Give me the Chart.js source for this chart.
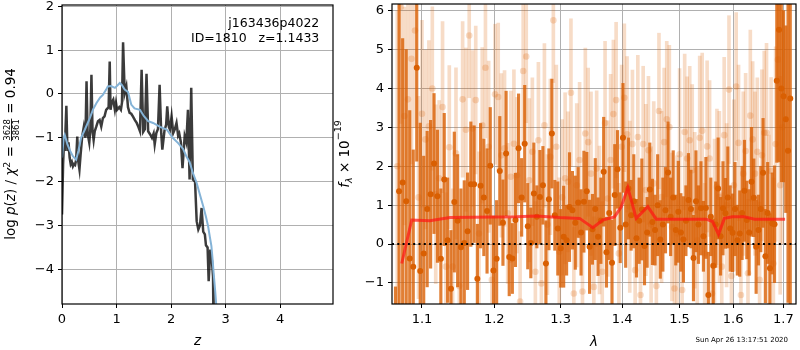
<!doctype html>
<html lang="en">
<head>
<meta charset="utf-8">
<title>j163436p4022 ID 1810 redshift fit</title>
<style>
  * { margin: 0; padding: 0; }
  body { background: #fff; width: 800px; height: 350px; overflow: hidden; position: relative; }
  #pz { position: absolute; left: 0; top: 0; }
  #spec { position: absolute; left: 330px; top: 0; }
</style>
</head>
<body>
<canvas id="pz" width="336" height="350"></canvas>
<canvas id="spec" width="470" height="350"></canvas>
<script src="https://cdn.jsdelivr.net/npm/chart.js"></script>
<script>
// ---- labels ----
const FIELD = 'j163436p4022';
const OBJ_ID = 1810;
const ZBEST = '1.1433';
const CHI2_NUM = '3628', CHI2_DEN = '3861', CHI2_RED = '0.94';
const STAMP = 'Sun Apr 26 13:17:51 2020';

// ---- left panel: log p(z) ----
const pzZ = [0.00, 0.02, 0.04, 0.05, 0.08, 0.10, 0.12, 0.14, 0.16, 0.18, 0.20, 0.22, 0.24, 0.26, 0.28, 0.30,
  0.32, 0.34, 0.37, 0.40, 0.43, 0.45, 0.47, 0.50, 0.52, 0.54, 0.56, 0.58, 0.60, 0.63, 0.66, 0.69, 0.72, 0.75,
  0.78, 0.81, 0.855, 0.875, 0.89, 0.91, 0.94, 0.97, 0.99, 1.01, 1.05, 1.08, 1.10, 1.12, 1.15, 1.18, 1.21, 1.24,
  1.27, 1.30, 1.34, 1.37, 1.40, 1.43, 1.46, 1.49, 1.52, 1.55, 1.58, 1.60, 1.63, 1.65, 1.68, 1.70, 1.73, 1.76,
  1.79, 1.82, 1.84, 1.88, 1.91, 1.93, 1.96, 1.98, 2.01, 2.04, 2.07, 2.10, 2.13, 2.15, 2.18, 2.21, 2.25, 2.28,
  2.31, 2.34, 2.37, 2.40, 2.44, 2.47, 2.50, 2.53, 2.56, 2.59, 2.62, 2.64, 2.67, 2.69, 2.72, 2.75, 2.77, 2.78];
const pzLogp = [-2.75, -1.6, -1.0, -1.3, -0.27, -1.3, -1.1, -1.45, -1.6, -1.55, -1.65, -1.6, -1.62, -1.5, -0.97, -1.55,
  -1.72, -1.4, -0.97, -0.75, -1.0, 0.29, -0.9, -1.11, -0.8, 0.44, -0.85, -1.05, -0.85, -0.74, -0.62, -0.59, -0.74, -0.55,
  -0.51, -0.36, -0.3, 0.74, -0.36, -0.2, -0.13, -0.36, -0.2, -0.36, -0.3, -0.36, -0.2, 1.18, 0.02, 0.17, -0.3, -0.43,
  -0.45, -0.51, -0.6, -0.66, -0.75, -0.85, 0.55, -0.86, -0.8, 0.46, -0.85, -0.89, -0.95, -1.0, -0.9, -1.15, -0.89, -0.8,
  0.21, -0.9, -1.27, -0.83, -0.7, -0.28, -0.75, -0.81, -0.51, -0.89, -0.8, -0.66, -0.95, -0.9, -1.1, -1.69, -0.96, -1.1,
  -0.36, -1.95, 0.14, -1.95, -2.0, -2.9, -3.09, -3.0, -2.6, -3.14, -3.2, -3.45, -3.5, -4.27, -3.55, -3.8, -4.17, -5.5];
const fitZ = [0.00, 0.03, 0.05, 0.10, 0.15, 0.20, 0.26, 0.30, 0.35, 0.42, 0.51, 0.57, 0.63, 0.70, 0.75, 0.81, 0.84,
  0.90, 0.97, 1.02, 1.06, 1.10, 1.15, 1.21, 1.27, 1.33, 1.43, 1.50, 1.58, 1.67, 1.80, 1.92, 2.03, 2.13, 2.22, 2.28,
  2.34, 2.40, 2.47, 2.53, 2.59, 2.64, 2.68, 2.71, 2.74, 2.76, 2.78, 2.81, 2.84];
const fitLogp = [-1.45, -1.0, -0.93, -1.15, -1.3, -1.42, -1.5, -1.3, -1.0, -0.81, -0.55, -0.35, -0.21, -0.08, -0.02, 0.1, 0.17,
  0.18, 0.14, 0.2, 0.25, 0.2, 0.1, 0.05, -0.24, -0.33, -0.36, -0.5, -0.62, -0.66, -0.75, -0.81, -1.0, -1.12, -1.25, -1.42,
  -1.55, -1.8, -2.03, -2.3, -2.56, -2.8, -3.02, -3.25, -3.47, -3.75, -4.07, -4.5, -5.0];
const PZ_XMIN = 0, PZ_XMAX = 4.97, PZ_YMIN = -4.79, PZ_YMAX = 2.03;
const pzXTicks = [0, 1, 2, 3, 4];
const pzYTicks = [-4, -3, -2, -1, 0, 1, 2];

// ---- right panel: spectrum (flux in 1e-19), regular wavelength sampling ----
const DARK_LAM0 = 1.0655, LIGHT_LAM0 = 1.0678, DLAM = 0.0046;
const darkFlux = [
  -2.2, 1.36, 1.58, 1.10, -0.37, -0.58, 4.53, -0.69, -0.24, 0.9,
  1.28, 2.07, 1.23, -0.38, 1.66, 0.10, -1.15, 1.08, 0.6, -0.08,
  0.03, 0.33, 1.54, 1.54, -0.89, 1.50, 1.20, 0.85, 2.01, -0.68,
  -0.38, 1.88, 0.55, 2.33, -0.33, -0.37, 0.62, 2.46, 1.20, 2.58,
  0.46, 0.03, 1.30, 0.7, 1.21, 1.51, -0.50, 1.15, 2.84, 0.74,
  0.40, -0.11, 0.19, 0.10, 0.95, 0.87, 0.55, 1.07, 0.3, 1.09,
  1.36, -0.07, 0.38, 0.9, 0.19, 0.6, 1.86, -0.21, 0.8, -0.48,
  1.26, 1.92, 0.42, 2.73, 0.5, 1.43, 0.74, 1.1, 0.15, 0.6,
  0.89, -0.05, 0.3, 1.40, 0.57, 0.36, 1.0, 0.12, 0.5, 0.87,
  1.84, 0.70, 1.2, 0.36, 0.83, 0.3, 0.12, 0.6, 1.13, 0.9,
  -0.36, 1.10, 0.5, 0.92, 0.2, 0.93, -1.31, 0.7, -0.56, 0.5,
  1.43, 0.2, 0.92, 0.79, 1.2, 0.4, 0.29, 0.9, 0.1, 0.27,
  0.8, 1.37, 0.62, 0.3, 1.60, 1.19, -0.07, 0.36, 0.9, 1.83,
  -0.31, 0.8, -0.62, 0.53, 0.51, 4.2, 5.51, 4.0, 3.8, 3.21,
  2.4, 3.74];
const darkErr = [
  1.1, 5.5, 3.7, 3.9, 3.8, 3.0, 2.4, 3.8, 2.5, 2.0,
  1.9, 1.8, 1.7, 1.8, 1.7, 1.6, 1.5, 1.8, 1.7, 1.5,
  1.6, 1.5, 1.6, 1.5, 1.4, 1.6, 1.5, 1.6, 1.5, 1.4,
  1.5, 1.4, 1.1, 1.6, 1.0, 0.9, 1.2, 1.4, 1.0, 1.5,
  1.1, 0.9, 1.3, 0.8, 1.2, 1.0, 1.1, 1.3, 1.4, 0.9,
  1.2, 1.0, 1.3, 0.9, 1.4, 1.0, 1.2, 0.9, 1.1, 1.3,
  1.0, 1.2, 0.9, 1.3, 1.0, 1.1, 1.4, 0.9, 1.2, 1.1,
  1.3, 1.0, 0.9, 1.4, 1.1, 1.3, 0.9, 1.2, 1.0, 1.1,
  1.3, 1.0, 0.9, 1.2, 1.1, 0.9, 1.3, 1.0, 1.2, 1.1,
  1.3, 1.0, 1.2, 0.9, 1.3, 1.0, 1.1, 0.9, 1.2, 1.0,
  1.1, 1.3, 1.0, 1.2, 0.9, 1.3, 1.1, 1.0, 1.2, 1.1,
  1.3, 1.0, 1.2, 0.9, 1.3, 1.1, 1.0, 1.2, 0.9, 1.1,
  1.2, 1.3, 1.0, 1.1, 1.4, 1.0, 1.2, 0.9, 1.1, 1.4,
  1.2, 1.3, 1.4, 1.3, 1.5, 2.1, 3.4, 2.4, 2.2, 2.4,
  3.9, 5.3];
const lightFlux = [
  2.0, 6.1, 3.29, 3.72, 4.76, 5.49, 1.2, 3.35, 2.69, 3.03,
  4.0, 1.28, 1.69, 3.52, -0.58, 2.49, -0.58, 2.33, -1.08, 3.72,
  2.94, 5.36, 2.97, 3.7, 0.27, 3.05, 4.53, 2.5, -0.92, 3.85,
  3.78, 2.28, 2.46, 0.79, 1.73, 2.58, 1.77, -1.48, 4.45, 4.82,
  1.64, 2.37, -0.71, 2.67, -1.01, 3.05, 0.5, 2.24, 5.75, 2.5,
  -0.2, 1.2, 1.69, 1.6, 3.89, -1.27, 1.51, 2.16, -1.22, 2.84,
  2.62, 1.81, -1.1, 1.94, 0.62, -0.71, 3.11, 1.17, 2.16, 3.34,
  3.7, -0.24, 2.5, 3.76, 2.82, 0.96, 2.57, -0.67, 2.75, -1.31,
  2.57, 1.39, 2.41, 0.5, 1.56, -1.08, 3.42, 1.21, 2.62, 3.21,
  3.01, 0.44, -1.14, 0.27, 2.31, -1.18, 2.88, 2.2, 2.67, 1.9,
  0.87, 0.1, 2.73, 2.91, -0.24, 2.51, 2.2, -1.27, 0.6, 1.47,
  1.21, -0.58, 2.8, 1.0, 3.97, -0.82, 1.51, 4.05, 2.6, -1.31,
  1.81, 2.39, -0.75, 3.3, 2.69, 1.81, 2.37, -0.92, 2.28, 2.86,
  2.86, 0.6, 1.88, -0.5, 2.57, 4.74, 1.51, 3.0];
const lightErr = [
  4.0, 3.0, 2.8, 2.6, 2.7, 2.5, 2.6, 2.4, 2.3, 2.2,
  2.1, 2.3, 2.0, 2.2, 1.9, 2.1, 2.0, 2.2, 1.8, 2.0,
  2.1, 1.6, 2.0, 1.9, 2.1, 2.0, 1.8, 2.2, 1.9, 1.8,
  1.9, 2.1, 2.0, 1.8, 2.2, 1.9, 2.0, 1.8, 1.9, 1.7,
  2.1, 1.9, 1.8, 2.0, 1.9, 2.1, 1.8, 2.0, 1.6, 2.1,
  1.9, 2.0, 2.2, 1.8, 1.9, 1.7, 2.1, 2.0, 1.8, 2.2,
  1.9, 2.1, 1.8, 2.0, 1.9, 1.8, 2.1, 2.0, 2.2, 1.9,
  2.0, 1.8, 2.1, 1.9, 2.0, 2.2, 1.9, 1.8, 2.1, 1.9,
  2.0, 2.2, 1.9, 2.0, 2.1, 1.8, 2.0, 2.2, 1.9, 2.0,
  2.1, 1.9, 1.8, 2.0, 2.2, 1.8, 2.0, 2.1, 1.9, 2.2,
  2.0, 1.9, 2.1, 2.0, 1.8, 2.2, 2.0, 1.9, 2.1, 2.0,
  2.2, 1.9, 2.0, 2.1, 1.9, 2.0, 2.2, 1.9, 2.0, 2.1,
  2.1, 2.0, 1.9, 2.2, 2.0, 2.1, 1.9, 2.0, 2.2, 2.1,
  2.3, 2.2, 2.4, 2.2, 2.5, 2.6, 2.8, 3.0];
const modelLam = [1.0735, 1.0865, 1.1106, 1.1376, 1.2326, 1.2625, 1.2984, 1.3300, 1.3514, 1.3678, 1.3871, 1.3984,
  1.4095, 1.4238, 1.4439, 1.4586, 1.5487, 1.5610, 1.5722, 1.5833, 1.5991, 1.6218, 1.6421, 1.7035];
const modelFlux = [-0.5, 0.62, 0.6, 0.68, 0.70, 0.72, 0.68, 0.66, 0.42, 0.62, 0.70, 0.96,
  1.45, 0.66, 0.96, 0.64, 0.64, 0.58, 0.25, 0.66, 0.70, 0.70, 0.64, 0.64];
const SP_XMIN = 1.061, SP_XMAX = 1.726, SP_YMIN = -1.54, SP_YMAX = 6.17;
const spXTicks = [1.1, 1.2, 1.3, 1.4, 1.5, 1.6, 1.7];
const spYTicks = [-1, 0, 1, 2, 3, 4, 5, 6];

// ---- helpers ----
Chart.defaults.font.family = '"DejaVu Sans"';
Chart.defaults.color = '#000';
Chart.defaults.animation = false;

const F = s => `${s}px "DejaVu Sans"`;
const FI = s => `italic ${s}px "DejaVu Sans"`;
const minus = v => (v < 0 ? '\u2212' + Math.abs(v) : String(v));

function axis(type, min, max, ticks, fmt, size, horizontal) {
  return {
    type, min, max, offset: false,
    grid: { color: '#b0b0b0', lineWidth: 1, tickLength: 4, tickColor: '#000', offset: false },
    border: { display: false },
    ticks: { font: { size: 13 }, color: '#000', padding: 4, autoSkip: false, maxRotation: 0, callback: fmt },
    afterBuildTicks: s => { s.ticks = ticks.map(v => ({ value: v })); },
    afterFit: s => {
      s.paddingLeft = s.paddingRight = s.paddingTop = s.paddingBottom = 0;
      if (horizontal) s.height = size; else s.width = size;
    }
  };
}

function drawFrame(ctx, a) {
  ctx.save();
  ctx.strokeStyle = '#000';
  ctx.lineWidth = 1.2;
  ctx.strokeRect(a.left, a.top, a.right - a.left, a.bottom - a.top);
  ctx.restore();
}

// text run with sub/superscripts and a stacked fraction, centred on (x, y)
function rich(ctx, x, y, angle, parts) {
  ctx.save();
  ctx.translate(x, y);
  ctx.rotate(angle);
  ctx.fillStyle = '#000';
  ctx.textBaseline = 'alphabetic';
  let total = 0;
  for (const p of parts) {
    ctx.font = p.f;
    p.w = p.num !== undefined
      ? Math.max(ctx.measureText(p.num).width, ctx.measureText(p.den).width) + 2
      : ctx.measureText(p.t).width;
    total += p.w;
  }
  let cx = -total / 2;
  for (const p of parts) {
    ctx.font = p.f;
    if (p.num !== undefined) {
      ctx.textAlign = 'center';
      ctx.fillText(p.num, cx + p.w / 2, p.nDy);
      ctx.fillText(p.den, cx + p.w / 2, p.dDy);
      ctx.fillRect(cx + 0.5, p.bDy, p.w - 1, 0.9);
    } else {
      ctx.textAlign = 'left';
      ctx.fillText(p.t, cx, p.dy || 0);
    }
    cx += p.w;
  }
  ctx.restore();
}

// ---- left chart ----
const pzText = {
  id: 'pzText',
  afterDraw(chart) {
    const { ctx, chartArea: a } = chart;
    drawFrame(ctx, a);
    ctx.save();
    ctx.fillStyle = '#000';
    ctx.font = F(12.5);
    ctx.textAlign = 'right';
    ctx.fillText(FIELD, 319.3, 27);
    ctx.fillText(`ID=${OBJ_ID}   z=${ZBEST}`, 319.3, 41.5);
    ctx.restore();
    rich(ctx, 15.3, 154, -Math.PI / 2, [
      { t: 'log ', f: F(13.5) }, { t: 'p', f: FI(13.5) }, { t: '(', f: F(13.5) }, { t: 'z', f: FI(13.5) },
      { t: ') / ', f: F(13.5) }, { t: 'χ', f: FI(13.5) }, { t: '2', f: F(9.5), dy: -5.5 },
      { t: ' = ', f: F(13.5) },
      { num: CHI2_NUM, den: CHI2_DEN, f: F(8.5), nDy: -5.5, dDy: 4, bDy: -4.2 },
      { t: ' = ' + CHI2_RED, f: F(13.5) }
    ]);
    rich(ctx, (a.left + a.right) / 2, 344.5, 0, [{ t: 'z', f: FI(13.5) }]);
  }
};

new Chart(document.getElementById('pz'), {
  type: 'line',
  data: {
    datasets: [
      {
        label: 'fit', data: fitZ.map((x, i) => ({ x, y: fitLogp[i] })),
        borderColor: '#84b3d7', borderWidth: 2, pointRadius: 0, order: 0, clip: 0
      },
      {
        label: 'p(z)', data: pzZ.map((x, i) => ({ x, y: pzLogp[i] })),
        borderColor: 'rgba(0,0,0,0.77)', borderWidth: 2.5, pointRadius: 0, order: 1, clip: 0
      }
    ]
  },
  options: {
    responsive: false,
    layout: { padding: { top: 5, right: 3, left: 0, bottom: 0 } },
    plugins: { legend: { display: false }, tooltip: { enabled: false } },
    scales: {
      x: axis('linear', PZ_XMIN, PZ_XMAX, pzXTicks, v => String(v), 46, true),
      y: axis('linear', PZ_YMIN, PZ_YMAX, pzYTicks, minus, 62, false)
    }
  },
  plugins: [pzText]
});

// ---- right chart ----
const darkLam = darkFlux.map((_, i) => +(DARK_LAM0 + i * DLAM).toFixed(4));
const lightLam = lightFlux.map((_, i) => +(LIGHT_LAM0 + i * DLAM).toFixed(4));

const specText = {
  id: 'specText',
  afterDraw(chart) {
    const { ctx, chartArea: a } = chart;
    drawFrame(ctx, a);
    rich(ctx, 18.5, 154, -Math.PI / 2, [
      { t: 'f', f: FI(13.5) }, { t: 'λ', f: FI(9.5), dy: 3 },
      { t: ' × 10', f: F(13.5) }, { t: '\u221219', f: F(9.5), dy: -7.5 }
    ]);
    rich(ctx, (a.left + a.right) / 2, 345.5, 0, [{ t: 'λ', f: FI(13.5) }]);
    ctx.save();
    ctx.fillStyle = '#000';
    ctx.font = F(7);
    ctx.textAlign = 'right';
    ctx.fillText(STAMP, 458, 342);
    ctx.restore();
  }
};

const DARK = 'rgb(217,95,2)';
const DARK_BAR = 'rgba(217,95,2,0.8)';
const LIGHT = 'rgba(217,95,2,0.22)';

new Chart(document.getElementById('spec'), {
  type: 'bar',
  data: {
    datasets: [
      {
        type: 'line', label: 'model', data: modelLam.map((x, i) => ({ x, y: modelFlux[i] })),
        borderColor: 'rgba(255,20,20,0.7)', borderWidth: 3, pointRadius: 0, order: 0, clip: 0
      },
      {
        type: 'line', label: 'zero', data: [{ x: SP_XMIN, y: 0 }, { x: SP_XMAX, y: 0 }],
        borderColor: '#000', borderWidth: 2, borderDash: [2, 3.3], pointRadius: 0, order: 1, clip: 0
      },
      {
        type: 'scatter', label: 'flux', data: darkLam.map((x, i) => ({ x, y: darkFlux[i] })),
        backgroundColor: DARK, borderWidth: 0, pointRadius: 3, order: 2, clip: 0
      },
      {
        label: 'err', data: darkLam.map((x, i) => ({ x, y: [darkFlux[i] - darkErr[i], darkFlux[i] + darkErr[i]] })),
        backgroundColor: DARK_BAR, borderWidth: 0, barThickness: 2.5, grouped: false, order: 3, clip: 0
      },
      {
        type: 'scatter', label: 'flux2', data: lightLam.map((x, i) => ({ x, y: lightFlux[i] })),
        backgroundColor: LIGHT, borderWidth: 0, pointRadius: 3.3, order: 4, clip: 0
      },
      {
        label: 'err2', data: lightLam.map((x, i) => ({ x, y: [lightFlux[i] - lightErr[i], lightFlux[i] + lightErr[i]] })),
        backgroundColor: LIGHT, borderWidth: 0, barThickness: 3, grouped: false, order: 5, clip: 0
      }
    ]
  },
  options: {
    responsive: false,
    layout: { padding: { top: 4, right: 3, left: 0, bottom: 0 } },
    plugins: { legend: { display: false }, tooltip: { enabled: false } },
    scales: {
      x: axis('logarithmic', SP_XMIN, SP_XMAX, spXTicks, v => Number(v).toFixed(1), 46, true),
      y: axis('linear', SP_YMIN, SP_YMAX, spYTicks, minus, 62, false)
    }
  },
  plugins: [specText]
});
</script>
</body>
</html>
